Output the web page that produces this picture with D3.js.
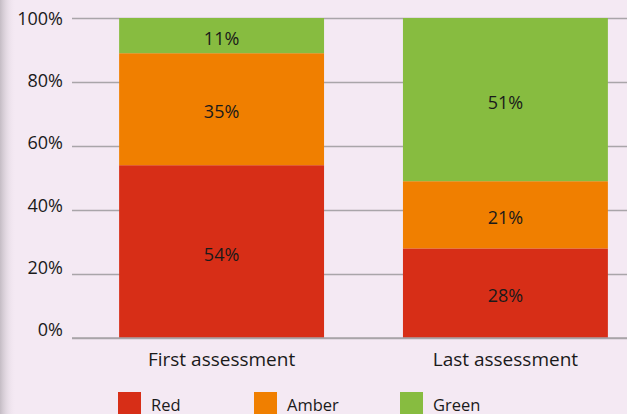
<!DOCTYPE html>
<html lang="en">
<head>
<meta charset="UTF-8" />
<title>Assessment ratings</title>
<script src="https://d3js.org/d3.v7.min.js"></script>
<style>
	body {
		margin: 0;
		background: #f4e9f3;
		font-family: "Open Sans", "Noto Sans", sans-serif;
	}
	svg { display: block; }
</style>
</head>
<body>
<svg id="chart" width="627" height="414"></svg>
<script>
	// data
	const assessments = ["First assessment", "Last assessment"];
	const ratings = ["Red", "Amber", "Green"];
	const red = [54, 28];
	const amber = [35, 21];
	const green = [11, 51];
	const yTicks = [0, 20, 40, 60, 80, 100];

	const colors = { Red: "#d72e17", Amber: "#f07f00", Green: "#87bc40" };

	const width = 627;
	const height = 414;
	const margin = { top: 18, left: 72, bottom: 76 };

	const svg = d3.select("#chart");

	// soft shadow on the left edge
	const defs = svg.append("defs");
	const grad = defs.append("linearGradient").attr("id", "shade");
	grad.append("stop").attr("offset", "0%").attr("stop-color", "#c4bcc4");
	grad.append("stop").attr("offset", "100%").attr("stop-color", "#f4e9f3").attr("stop-opacity", 0);
	svg.append("rect").attr("width", 16).attr("height", height).attr("fill", "url(#shade)");

	const rows = assessments.map((a, i) => ({
		name: a, Red: red[i], Amber: amber[i], Green: green[i]
	}));

	const x = d3.scaleBand()
		.domain(assessments)
		.range([margin.left, 655])
		.paddingInner(0.278)
		.paddingOuter(0.166);

	const y = d3.scaleLinear()
		.domain([0, 100])
		.range([height - margin.bottom, margin.top]);

	// the tick labels sit a little tighter than the gridlines in the original
	const yLabel = d3.scaleLinear()
		.domain([0, 100])
		.range([329, 18]);

	// gridlines
	const yAxis = svg.append("g")
		.attr("transform", `translate(${margin.left},0)`)
		.call(d3.axisLeft(y).tickValues(yTicks).tickSize(-(width - margin.left)).tickFormat(""));
	yAxis.select(".domain").remove();
	yAxis.selectAll(".tick line").attr("stroke", "#a9a5a9").attr("stroke-width", 1.5);

	svg.append("g").selectAll("text")
		.data(yTicks)
		.join("text")
		.attr("x", margin.left - 9)
		.attr("y", d => yLabel(d))
		.attr("text-anchor", "end")
		.attr("dominant-baseline", "central")
		.attr("fill", "#1a1a1a")
		.style("font-size", "18px")
		.text(d => d + "%");

	const stack = d3.stack().keys(ratings)(rows);

	const layers = svg.append("g").selectAll("g")
		.data(stack)
		.join("g")
		.attr("fill", d => colors[d.key]);

	layers.selectAll("rect")
		.data(d => d)
		.join("rect")
		.attr("x", d => x(d.data.name))
		.attr("width", x.bandwidth())
		.attr("y", d => y(d[1]))
		.attr("height", d => y(d[0]) - y(d[1]));

	layers.selectAll("text")
		.data(d => d)
		.join("text")
		.attr("x", d => x(d.data.name) + x.bandwidth() / 2)
		.attr("y", d => (y(d[0]) + y(d[1])) / 2 + 2)
		.attr("text-anchor", "middle")
		.attr("dominant-baseline", "central")
		.attr("fill", "#1a1a1a")
		.style("font-size", "18px")
		.text(d => (d[1] - d[0]) + "%");

	// baseline
	svg.append("line")
		.attr("x1", margin.left).attr("x2", width)
		.attr("y1", y(0)).attr("y2", y(0))
		.attr("stroke", "#a9a5a9").attr("stroke-width", 1.5);

	// category labels
	svg.append("g").selectAll("text")
		.data(assessments)
		.join("text")
		.attr("x", d => x(d) + x.bandwidth() / 2)
		.attr("y", 366)
		.attr("text-anchor", "middle")
		.attr("fill", "#1a1a1a")
		.style("font-size", "19px")
		.text(d => d);

	// legend
	const legendX = [118, 254, 400];
	const legend = svg.append("g").selectAll("g")
		.data(ratings)
		.join("g")
		.attr("transform", (d, i) => `translate(${legendX[i]},392)`);
	legend.append("rect")
		.attr("width", 23).attr("height", 23)
		.attr("fill", d => colors[d]);
	legend.append("text")
		.attr("x", 33).attr("y", 19)
		.attr("fill", "#1a1a1a")
		.style("font-size", "16.5px")
		.text(d => d);
</script>
</body>
</html>
